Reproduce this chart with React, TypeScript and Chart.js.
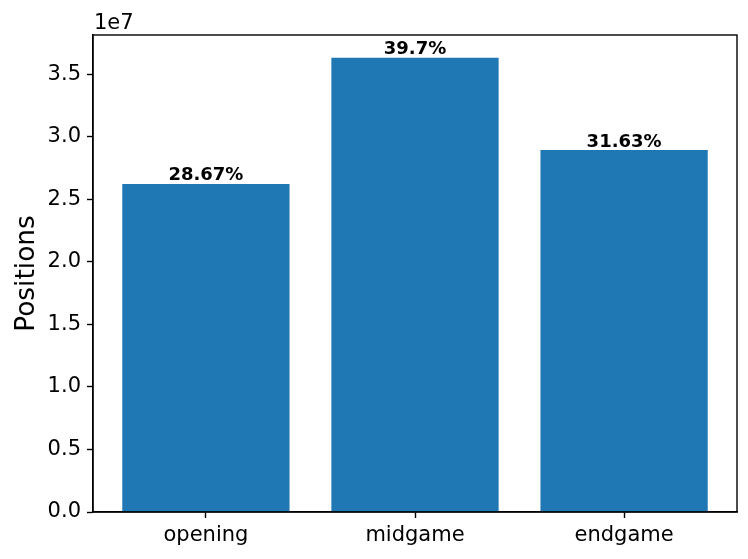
import React, { useEffect, useRef } from "react";
import { Chart, registerables } from "chart.js";

Chart.register(...registerables);

const categories = ["opening", "midgame", "endgame"];
const positions = [26240000, 36330000, 28950000];
const percentLabels = ["28.67%", "39.7%", "31.63%"];
const yTicks = [0, 0.5, 1.0, 1.5, 2.0, 2.5, 3.0, 3.5];

const FONT = "'DejaVu Sans', sans-serif";

const decorPlugin = {
  id: "decor",
  afterDatasetsDraw(chart: any) {
    const ctx = chart.ctx;
    const ca = chart.chartArea;
    ctx.save();
    // frame
    ctx.strokeStyle = "#000";
    ctx.lineWidth = 1.4;
    ctx.strokeRect(ca.left, ca.top, ca.right - ca.left, ca.bottom - ca.top);
    // bar labels
    const meta = chart.getDatasetMeta(0);
    ctx.fillStyle = "#000";
    ctx.font = "bold 18px " + FONT;
    ctx.textAlign = "center";
    ctx.textBaseline = "alphabetic";
    meta.data.forEach((bar: any, i: number) => {
      ctx.fillText(percentLabels[i], bar.x, bar.y - 3.5);
    });
    // offset text
    ctx.font = "21px " + FONT;
    ctx.textAlign = "left";
    ctx.fillText("1e7", ca.left + 1, ca.top - 6);
    // y axis title
    ctx.font = "26.4px " + FONT;
    ctx.translate(34, (ca.top + ca.bottom) / 2);
    ctx.rotate(-Math.PI / 2);
    ctx.textAlign = "center";
    ctx.textBaseline = "alphabetic";
    ctx.fillText("Positions", 0, 0);
    ctx.restore();
  },
};

export default function App() {
  const ref = useRef<HTMLCanvasElement>(null);
  useEffect(() => {
    if (!ref.current) return;
    const chart = new Chart(ref.current, {
      type: "bar",
      data: {
        datasets: [
          {
            data: positions.map((v, i) => ({ x: i, y: v })),
            backgroundColor: "#1f77b4",
            borderWidth: 0,
            barPercentage: 0.8,
            categoryPercentage: 1,
          },
        ],
      },
      options: {
        responsive: false,
        animation: false,
        devicePixelRatio: 1,
        layout: { padding: { left: 0, top: 35, right: 11, bottom: 0 } },
        plugins: { legend: { display: false }, tooltip: { enabled: false } },
        scales: {
          x: {
            type: "linear",
            offset: false,
            min: -0.54,
            max: 2.54,
            afterBuildTicks: (s: any) => {
              s.ticks = categories.map((_, i) => ({ value: i }));
            },
            afterFit: (s: any) => {
              s.height = 47;
            },
            ticks: {
              autoSkip: false,
              maxRotation: 0,
              padding: 5,
              color: "#000",
              font: { family: FONT, size: 21 },
              callback: (v: any) => categories[v] ?? "",
            },
            grid: {
              offset: false,
              drawOnChartArea: false,
              drawTicks: true,
              tickLength: 6,
              tickWidth: 1.4,
              color: "#000",
            },
            border: { display: true, color: "#000", width: 1.4 },
          },
          y: {
            min: 0,
            max: 38150000,
            afterBuildTicks: (s: any) => {
              s.ticks = yTicks.map((t) => ({ value: t * 1e7 }));
            },
            afterFit: (s: any) => {
              s.width = 93;
            },
            ticks: {
              padding: 6,
              color: "#000",
              font: { family: FONT, size: 21 },
              callback: (v: any) => (Number(v) / 1e7).toFixed(1),
            },
            grid: {
              drawOnChartArea: false,
              drawTicks: true,
              tickLength: 6,
              tickWidth: 1.4,
              color: "#000",
            },
            border: { display: true, color: "#000", width: 1.4 },
          },
        },
      },
      plugins: [decorPlugin],
    } as any);
    return () => chart.destroy();
  }, []);
  return (
    <div style={{ position: "fixed", left: 0, top: 0, width: 748, height: 559, background: "#fff" }}>
      <canvas ref={ref} width={748} height={559} style={{ width: 748, height: 559, display: "block" }} />
    </div>
  );
}
